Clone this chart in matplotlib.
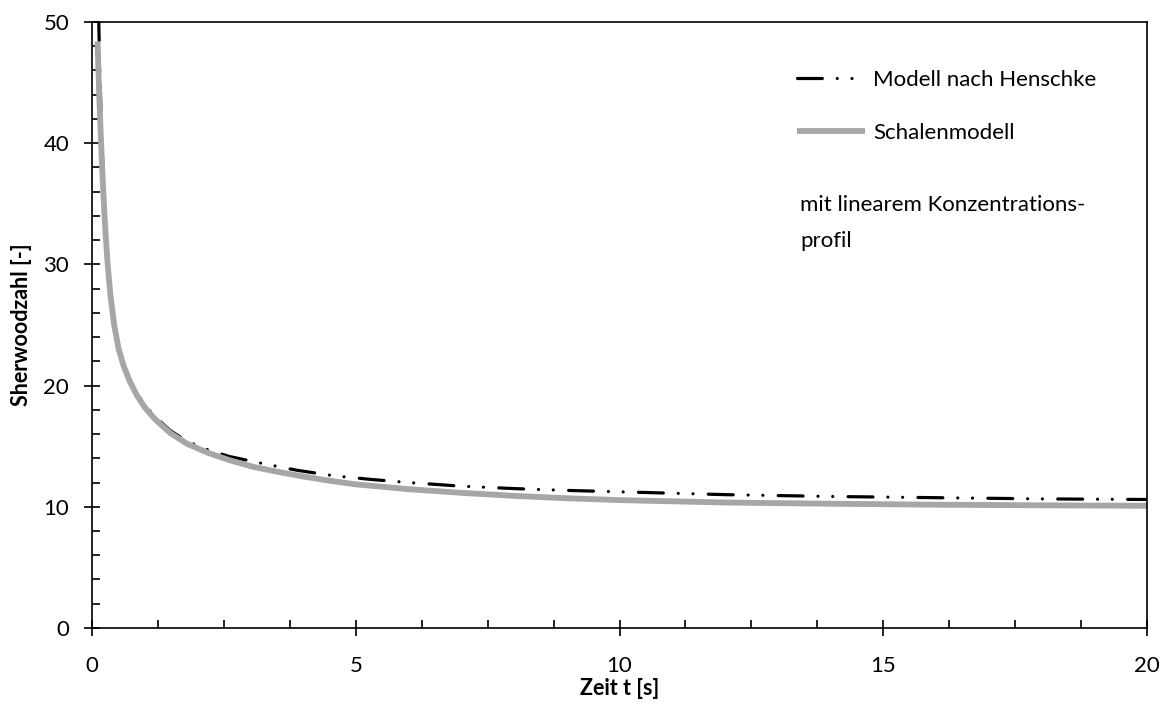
import matplotlib.pyplot as plt
from matplotlib.ticker import MultipleLocator

plt.rcParams['font.family'] = ['Lato', 'DejaVu Sans']
plt.rcParams['lines.scale_dashes'] = False

# Zeit t [s] und Sherwoodzahl
t_henschke = [0.125, 0.14, 0.17, 0.20, 0.23, 0.26, 0.30, 0.35, 0.42, 0.50, 0.60, 0.72,
              0.85, 1.0, 1.2, 1.48, 1.8, 2.2, 2.6, 3.2, 3.9, 4.6, 5.3, 6.0, 7.0, 8.0,
              9.0, 10.3, 12.0, 14.0, 16.0, 18.0, 20.0]
sh_henschke = [50.5, 47.5, 42.5, 38.6, 35.4, 32.9, 30.2, 27.7, 25.2, 23.3, 21.8, 20.45,
               19.4, 18.4, 17.4, 16.3, 15.4, 14.7, 14.15, 13.6, 13.0, 12.55, 12.25, 12.0,
               11.7, 11.5, 11.35, 11.2, 11.0, 10.85, 10.75, 10.65, 10.6]

t_schale = [0.105, 0.12, 0.14, 0.17, 0.20, 0.23, 0.26, 0.30, 0.35, 0.42, 0.50, 0.60,
            0.72, 0.85, 1.0, 1.2, 1.48, 1.8, 2.2, 2.6, 3.05, 3.5, 4.0, 4.5, 5.0, 6.0,
            7.0, 8.0, 9.0, 10.0, 12.0, 14.0, 16.0, 18.0, 20.0]
sh_schale = [48.4, 46.2, 43.6, 40.2, 37.2, 34.6, 32.3, 29.8, 27.4, 25.0, 23.1, 21.6,
             20.3, 19.2, 18.2, 17.2, 16.1, 15.2, 14.45, 13.85, 13.3, 12.9, 12.5, 12.15,
             11.85, 11.45, 11.15, 10.9, 10.7, 10.55, 10.35, 10.25, 10.17, 10.12, 10.08]

fig = plt.figure(figsize=(11.62, 7.04), dpi=100)
ax = fig.add_axes([0.0792, 0.108, 0.9079, 0.8608])

ax.plot(t_henschke, sh_henschke, color='black', lw=2.3, dash_capstyle='round',
        linestyle=(0, [17.9, 10.75, 0.01, 10.6, 0.01, 11.05]),
        label='Modell nach Henschke')
ax.plot(t_schale, sh_schale, color='#a6a6a6', lw=4.2, label='Schalenmodell',
        solid_capstyle='butt')

ax.set_xlim(0, 20)
ax.set_ylim(0, 50)
ax.xaxis.set_major_locator(MultipleLocator(5))
ax.xaxis.set_minor_locator(MultipleLocator(1.25))
ax.yaxis.set_major_locator(MultipleLocator(10))
ax.yaxis.set_minor_locator(MultipleLocator(2))
ax.tick_params(which='major', direction='inout', length=11, width=1.2, labelsize=16)
ax.tick_params(axis='x', which='major', pad=15)
ax.tick_params(axis='y', which='major', pad=11)
ax.tick_params(which='minor', direction='in', length=5.5, width=1.2)
for s in ax.spines.values():
    s.set_linewidth(1.2)

ax.set_xlabel('Zeit t [s]', fontsize=15.5, fontweight='bold', labelpad=1)
ax.set_ylabel('Sherwoodzahl [-]', fontsize=15.5, fontweight='bold', labelpad=8)

ax.legend(loc='upper left', bbox_to_anchor=(0.6685, 0.921), frameon=False,
          fontsize=16, handlelength=3.06, handletextpad=0.36, labelspacing=1.5,
          borderpad=0, borderaxespad=0)
ax.text(0.671, 0.715, 'mit linearem Konzentrations-\nprofil', transform=ax.transAxes,
        fontsize=16, va='top', ha='left', linespacing=2.0)

fig.savefig('out.png', dpi=100)
